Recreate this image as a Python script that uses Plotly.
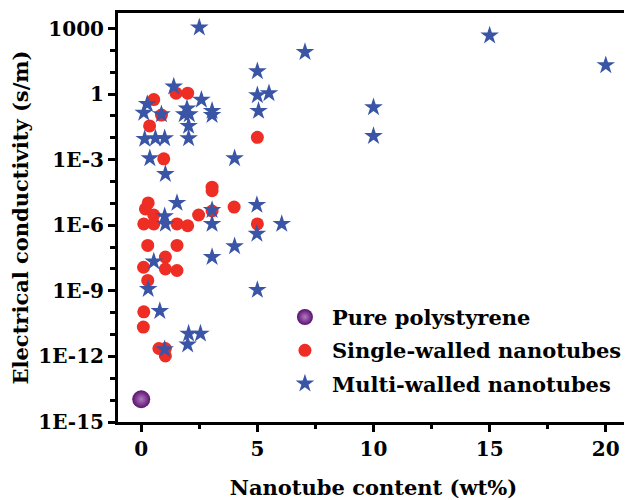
import plotly.graph_objects as go

# Pure polystyrene
ps_x = [0.0]
ps_y = [1.1e-14]

# Single-walled nanotubes
swnt_x = [0.54, 1.5, 2.0, 0.87, 0.36, 5.0, 0.97, 3.05, 3.05, 0.3, 0.18, 0.54, 2.47, 3.05, 4.0,
          0.11, 0.54, 1.54, 2.0, 5.0, 0.28, 1.54, 1.04, 0.1, 1.04, 1.54, 0.28, 0.11, 0.09, 0.76,
          1.04, 1.04]
swnt_y = [0.56, 1.1, 1.1, 0.11, 0.035, 0.0105, 1.1e-3, 5.5e-5, 3.8e-5, 1.05e-5, 5.6e-6, 2.95e-6,
          2.95e-6, 4.5e-6, 6.8e-6, 1.15e-6, 1.15e-6, 1.15e-6, 9.5e-7, 1.15e-6, 1.2e-7, 1.2e-7,
          3.5e-8, 1.2e-8, 1.0e-8, 8.5e-9, 3.0e-9, 1.1e-10, 2.2e-11, 2.3e-12, 2.3e-12, 1.05e-12]

# Multi-walled nanotubes
mwnt_x = [2.5, 7.05, 15, 20, 5.0, 5.0, 5.5, 5.05, 10, 10, 1.4, 2.59, 3.05, 3.05, 0.26, 0.11,
          0.87, 1.97, 1.85, 2.07, 2.04, 2.04, 0.15, 0.61, 1.01, 0.37, 4.02, 1.04, 1.54, 3.05,
          4.98, 1.01, 1.04, 3.05, 6.05, 4.98, 4.02, 3.05, 0.54, 0.3, 5.0, 0.8, 2.04, 2.55, 2.0,
          1.01]
mwnt_y = [1100, 83, 480, 21, 11, 0.89, 1.1, 0.17, 0.25, 0.012, 2.2, 0.55, 0.17, 0.11, 0.35, 0.14,
          0.12, 0.22, 0.12, 0.12, 0.035, 0.0095, 0.0089, 0.0095, 0.0095, 1.15e-3, 1.15e-3, 2.2e-4,
          1.05e-5, 5.0e-6, 8.5e-6, 2.6e-6, 1.15e-6, 1.15e-6, 1.15e-6, 4.1e-7, 1.1e-7, 3.5e-8,
          2.2e-8, 1.2e-9, 1.1e-9, 1.2e-10, 1.1e-11, 1.1e-11, 3.5e-12, 2.1e-12]

y_tickvals = [1e-15, 1e-12, 1e-9, 1e-6, 1e-3, 1, 1000]
y_ticktext = ["1E-15", "1E-12", "1E-9", "1E-6", "1E-3", "1", "1000"]
x_tickvals = [0, 5, 10, 15, 20]

FONT = "DejaVu Serif"

fig = go.Figure()
fig.add_trace(go.Scatter(
    x=ps_x, y=ps_y, mode="markers", name="<b>Pure polystyrene</b>", legendgroup="a",
    marker=dict(symbol="circle", size=18, color="#5c0f70",
                gradient=dict(type="radial", color="#b07cc0"),
                line=dict(width=0))))
fig.add_trace(go.Scatter(
    x=swnt_x, y=swnt_y, mode="markers", name="<b>Single-walled nanotubes</b>", legendgroup="b",
    marker=dict(symbol="circle", size=13, color="#ee2d24", line=dict(width=0))))
fig.add_trace(go.Scatter(
    x=mwnt_x, y=mwnt_y, mode="markers", name="<b>Multi-walled nanotubes</b>", legendgroup="c",
    marker=dict(symbol="star", size=14, color="#3a55a6", line=dict(width=0))))

minor_y = [10.0 ** k for k in range(-15, 4) if k % 3 != 0]

# page body has an 8px default margin, so the figure is sized/offset to compensate
fig.update_layout(
    width=624, height=492,
    margin=dict(l=110, r=3, t=5, b=78),
    paper_bgcolor="white", plot_bgcolor="white",
    font=dict(family=FONT, size=20, color="black"),
    showlegend=True,
    legend=dict(x=0.313, y=0.306, xanchor="left", yanchor="top",
                bgcolor="rgba(0,0,0,0)", font=dict(family=FONT, size=21, color="black"),
                itemwidth=44, tracegroupgap=3),
    xaxis=dict(
        range=[-1, 21], tickvals=x_tickvals, ticks="outside", ticklen=7, tickwidth=3,
        tickcolor="black", showline=True, linewidth=3, linecolor="black", mirror=True,
        showgrid=False, zeroline=False, automargin=False,
        tickfont=dict(family=FONT, size=20, color="black", weight="bold"),
        minor=dict(dtick=2.5, ticks="outside", ticklen=4, tickwidth=3, tickcolor="black"),
        title=dict(text="<b>Nanotube content (wt%)</b>", font=dict(family=FONT, size=21),
                   standoff=28),
    ),
    yaxis=dict(
        type="log", range=[-15, 3.71], tickvals=y_tickvals, ticktext=y_ticktext,
        ticks="outside", ticklen=7, tickwidth=3, tickcolor="black",
        showline=True, linewidth=3, linecolor="black", mirror=True,
        showgrid=False, zeroline=False, automargin=False,
        tickfont=dict(family=FONT, size=20, color="black", weight="bold"),
        minor=dict(tickvals=minor_y, ticks="outside", ticklen=5, tickwidth=3, tickcolor="black"),
        title=dict(text="<b>Electrical conductivity (s/m)</b>", font=dict(family=FONT, size=21),
                   standoff=12),
    ),
)

fig.write_html("out.html")
